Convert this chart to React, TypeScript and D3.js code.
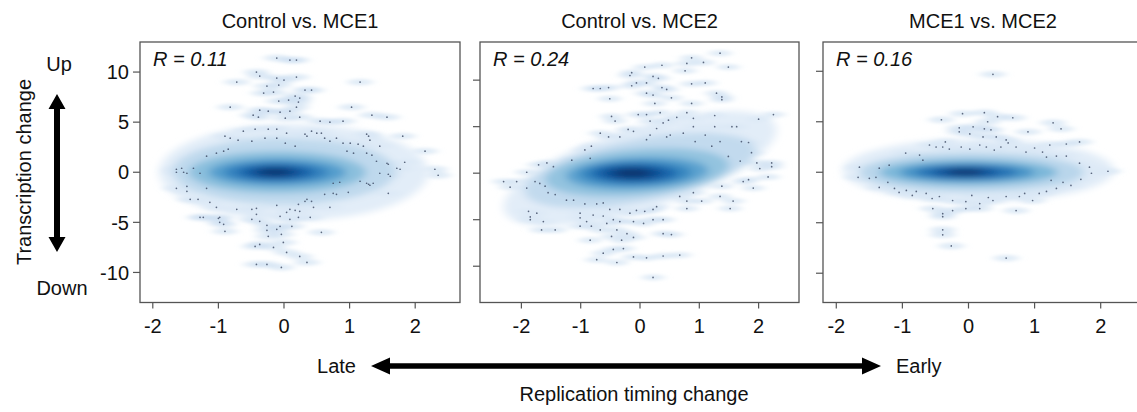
import React from 'react';
import * as d3 from 'd3';

const W = 1137;
const H = 412;

// ---------- data ----------
const panelTitles = ['Control vs. MCE1', 'Control vs. MCE2', 'MCE1 vs. MCE2'];
const correlations = ['0.11', '0.24', '0.16'];
const xTickValues = [-2, -1, 0, 1, 2];
const yTickValues = [-10, -5, 0, 5, 10];
const xDomains: [number, number][] = [[-2.195, 2.683], [-2.698, 2.681], [-2.201, 2.64]];
const yDomains: [number, number][] = [[-13, 13], [-13.9, 14.1], [-12.9, 12.9]];

type Dot = [number, number];

const dotsControlMCE1: Dot[] = [
  [-0.11, 11.4], [0.09, 11.2], [0.19, 11.2], [-0.42, 10.0], [-0.37, 9.6], [-0.11, 9.4], [0.0, 9.2], [0.19, 9.5],
  [-0.72, 9.0], [1.16, 9.0], [-0.26, 8.6], [-0.08, 8.7], [0.32, 8.2], [0.42, 8.2], [-0.31, 7.9], [-0.16, 8.0],
  [0.17, 7.6], [0.24, 7.4], [-0.08, 7.1], [0.07, 7.2], [0.22, 7.0], [-0.82, 6.5], [0.19, 6.5], [1.03, 6.5],
  [-0.37, 6.2], [-0.24, 6.1], [-0.06, 6.0], [0.09, 6.1], [-0.47, 5.7], [-0.39, 5.5], [0.24, 5.5], [0.02, 5.4],
  [1.34, 5.7], [1.57, 5.5], [0.55, 5.1], [0.7, 5.0], [0.9, 5.1],
  [-0.62, 4.1], [-0.44, 4.3], [-0.24, 4.3], [-0.11, 4.3], [0.04, 3.9], [0.32, 3.8], [0.42, 4.1], [0.5, 3.9], [0.57, 3.9],
  [-0.9, 3.6], [-0.82, 3.4], [-0.7, 3.2], [-0.49, 3.1], [-0.29, 3.4], [-0.11, 3.4], [0.02, 2.9], [0.17, 2.6],
  [0.35, 3.6], [0.62, 3.4], [0.7, 3.1], [0.8, 3.4], [0.9, 2.9], [1.01, 2.9], [1.13, 2.8], [1.29, 3.6], [1.31, 3.2], [1.46, 2.6],
  [-1.03, 1.9], [-0.92, 2.1], [-0.85, 2.3], [-1.18, 1.6], [0.96, 2.1], [1.06, 1.9], [1.26, 1.9], [1.34, 1.7],
  [-1.64, 0.3], [-1.64, 0.0], [-1.56, 0.4], [-1.53, 0.0], [-1.48, -0.1], [-1.38, 0.4], [-1.28, -0.1],
  [1.41, 1.1], [1.57, 0.9], [1.46, -0.1], [1.59, -0.2], [0.85, -1.0], [1.16, -0.9], [1.26, -1.1], [1.31, -1.3],
  [-1.64, -1.6], [-1.48, -1.4], [-1.48, -1.9], [-1.18, -1.6], [-1.43, -2.7], [-1.31, -2.7], [-1.13, -3.0],
  [0.62, -2.2], [0.75, -2.1], [0.8, -2.2], [0.98, -2.0], [0.32, -2.9], [0.45, -3.5], [0.22, -3.2], [-0.11, -3.3],
  [-1.03, -3.5], [-0.72, -3.7], [-0.49, -3.7], [-0.42, -3.6], [0.09, -3.7], [0.24, -3.9], [0.7, -3.5],
  [-1.23, -4.5], [-0.98, -4.5], [-0.49, -4.7], [-0.42, -4.2], [-0.06, -4.4], [0.09, -4.7], [0.22, -4.5], [0.4, -4.5],
  [-0.92, -5.2], [-0.26, -5.3], [-0.06, -5.4], [0.12, -5.4], [-0.11, -5.7], [-0.9, -5.9], [-0.24, -6.4], [0.57, -6.0],
  [-1.28, -4.5], [-1.0, -4.6], [-0.98, -5.0], [-0.37, -4.9], [-0.26, -5.8], [-0.04, -6.2], [0.04, -4.0], [0.17, -3.8],
  [0.35, -2.7], [0.42, -2.9], [-0.37, -7.2], [-0.44, -7.4], [-0.16, -7.5], [-0.01, -7.0], [0.04, -8.0], [0.24, -8.4],
  [0.35, -9.0], [-0.42, -9.2], [-0.26, -9.2], [-0.04, -9.5],
  [1.26, 3.8], [1.21, 2.6], [1.59, 0.8], [1.72, 0.4], [1.62, -0.4], [1.59, -2.1], [1.36, -1.1], [1.29, -1.2], [0.75, -1.1],
  [1.81, 3.6], [2.15, 2.1], [1.84, 1.0], [1.77, 0.3], [2.3, 0.3], [2.35, -0.3],
];

const dotsControlMCE2: Dot[] = [
  [1.35, 12.9], [0.87, 12.4], [0.79, 11.8], [1.07, 11.9], [1.49, 11.4], [0.37, 11.6], [0.08, 11.4], [-0.14, 10.8],
  [-0.17, 10.5], [0.22, 10.4], [0.31, 10.2], [-0.06, 9.7], [0.11, 9.7], [-0.14, 9.4], [0.37, 9.2], [0.45, 9.0],
  [-0.67, 9.1], [-0.53, 9.2], [-0.79, 9.1], [0.76, 11.0], [0.87, 9.6], [1.1, 9.7], [1.29, 8.6], [1.38, 8.2], [1.38, 7.9],
  [-0.51, 8.0], [0.11, 8.6], [0.22, 8.4], [0.53, 8.1], [0.25, 7.5], [0.87, 7.5], [0.34, 6.5], [0.11, 6.3], [-0.03, 6.3],
  [-0.48, 6.1], [-0.42, 5.6], [0.79, 6.5], [0.62, 6.0], [0.48, 5.7], [0.39, 5.4], [0.17, 5.6], [0.28, 4.8], [0.9, 5.9],
  [0.9, 5.0], [1.26, 6.2], [2.0, 5.8], [2.25, 6.3], [1.26, 5.0], [1.55, 5.0], [1.63, 5.0], [1.71, 3.4], [1.83, 3.3],
  [0.93, 3.4], [1.35, 3.4], [1.21, 2.9], [1.1, 4.1], [0.73, 4.3], [0.51, 4.1], [0.45, 3.9], [0.17, 4.1], [0.11, 3.6],
  [-0.11, 4.5], [-0.2, 4.7], [-0.34, 3.9], [-0.53, 3.9], [-0.67, 4.3], [-0.82, 2.9], [-0.93, 2.5], [-0.84, 1.6],
  [-1.15, 1.4], [-1.57, 1.1], [-1.71, 0.9], [-1.46, 0.7], [-1.91, 0.1], [-2.19, -1.5], [-2.3, -0.9], [-2.08, -0.9],
  [-1.91, -1.6], [-1.69, -1.1], [-1.77, -0.9], [1.88, 2.2], [1.97, 1.1], [2.22, 1.1], [2.22, 0.7], [2.02, 0.5],
  [1.83, -0.7], [1.74, -0.9], [1.91, -1.6], [2.16, -0.4], [1.49, 1.8], [1.69, 1.3], [1.38, -1.4], [0.9, -2.1],
  [0.67, -2.5], [0.79, -3.0], [1.04, -3.0], [1.35, -2.5], [1.57, -3.0], [1.52, -3.8], [0.79, -3.8], [-1.6, -1.4],
  [-1.55, -2.1], [-1.43, -2.3], [-1.24, -2.9], [-1.12, -2.9], [-0.93, -3.3], [-0.73, -3.3], [-0.62, -3.2], [-0.51, -3.9],
  [-0.34, -3.9], [-0.17, -4.3], [-0.06, -4.0], [0.08, -4.1], [0.22, -3.9], [0.28, -3.6], [-1.01, -4.3], [-0.79, -4.5],
  [-0.62, -4.6], [-0.45, -5.0], [-0.56, -5.4], [-0.34, -5.2], [-0.11, -5.2], [0.06, -5.4], [0.22, -5.0], [0.39, -5.0],
  [-1.01, -4.8], [-0.9, -5.2], [-0.82, -5.7], [-1.01, -5.7], [-0.67, -6.1], [-0.39, -6.1], [-0.22, -6.5], [-0.11, -6.9],
  [0.39, -6.5], [0.53, -6.6], [-1.88, -4.1], [-1.74, -4.3], [-1.85, -4.7], [-1.85, -5.0], [-1.63, -5.2], [-1.66, -6.1],
  [-1.43, -6.1], [-0.84, -7.2], [-0.48, -6.8], [-0.31, -7.2], [-0.62, -8.6], [-0.45, -8.2], [-0.28, -8.1], [-0.11, -9.0],
  [0.11, -9.1], [0.39, -8.9], [0.67, -8.8], [-0.39, -9.6], [0.22, -11.2], [-0.73, -9.3],
];

const dotsMCE1MCE2: Dot[] = [
  [0.37, 9.7], [-0.41, 5.2], [-0.09, 5.8], [0.24, 5.9], [0.44, 5.5], [0.67, 5.4], [0.29, 5.0], [-0.14, 4.4], [0.07, 4.5],
  [0.24, 4.3], [1.28, 4.9], [1.4, 4.3], [0.9, 4.0], [-0.14, 4.0], [0.02, 3.8], [0.22, 3.5], [0.42, 3.5], [0.57, 3.2],
  [0.34, 4.2], [-0.59, 2.7], [-0.49, 2.5], [-0.39, 2.5], [-0.29, 2.3], [-0.11, 2.5], [0.02, 2.3], [0.17, 2.7], [0.27, 2.5],
  [0.39, 2.2], [0.49, 2.5], [0.72, 2.5], [0.87, 2.0], [1.12, 2.0], [1.23, 2.7], [1.48, 2.8], [1.68, 3.0],
  [-0.74, 1.7], [-0.69, 1.2], [-1.2, 0.7], [-1.35, 0.4], [-1.65, 0.5], [-1.67, -0.5], [-1.5, -0.6], [-1.4, -0.5],
  [1.18, 1.5], [1.33, 1.6], [1.48, 1.6], [1.68, 0.9], [1.83, 0.5], [1.86, -0.1], [2.11, 0.1],
  [-1.22, -1.0], [-1.35, -1.5], [-1.12, -1.6], [-0.94, -1.8], [-0.79, -1.9], [-0.64, -2.1], [-0.44, -2.4], [-0.24, -2.8],
  [-0.04, -2.9], [0.17, -3.1], [0.37, -2.8], [0.57, -2.4], [0.77, -2.4], [0.97, -2.8], [1.18, -1.9], [1.33, -1.6],
  [1.43, -1.0], [1.25, -0.8], [1.07, -2.1], [-0.54, -3.6], [-0.39, -4.1], [-0.24, -3.8], [-0.04, -3.6], [0.17, -3.6],
  [0.72, -3.8], [-0.39, -4.4], [-0.39, -5.7], [-0.39, -6.2], [-0.26, -7.3], [0.57, -8.5],
  [-1.05, -2.0], [-0.85, -2.3], [-0.55, -2.6], [0.05, -2.3], [0.3, -2.5], [0.85, -2.1], [-0.95, 1.9], [-0.35, 3.0],
  [0.6, 2.9], [1.0, 2.4], [1.55, -1.3], [1.7, -0.7],
];

// density levels of the smoothed core, in data units (centre, half-spread, shear)
type Layer = { level: number; cx: number; cy: number; rx: number; ry: number; shear: number };

const coreControlMCE1: Layer[] = [
  { level: 0.06, cx: 0.15, cy: 0.0, rx: 2.05, ry: 4.8, shear: 0 },
  { level: 0.17, cx: 0.0, cy: 0.1, rx: 1.7, ry: 3.3, shear: 0 },
  { level: 0.32, cx: -0.1, cy: 0.0, rx: 1.35, ry: 2.1, shear: 0 },
  { level: 0.48, cx: -0.1, cy: 0.0, rx: 1.05, ry: 1.4, shear: 0 },
  { level: 0.62, cx: -0.12, cy: 0.0, rx: 0.8, ry: 1.0, shear: 0 },
  { level: 0.76, cx: -0.12, cy: 0.0, rx: 0.58, ry: 0.75, shear: 0 },
  { level: 0.88, cx: -0.13, cy: 0.0, rx: 0.4, ry: 0.52, shear: 0 },
  { level: 1.0, cx: -0.14, cy: 0.0, rx: 0.24, ry: 0.32, shear: 0 },
];

const coreControlMCE2: Layer[] = [
  { level: 0.06, cx: 0.0, cy: 0.5, rx: 2.3, ry: 4.6, shear: 1.8 },
  { level: 0.16, cx: 0.0, cy: 0.3, rx: 1.95, ry: 3.4, shear: 1.1 },
  { level: 0.3, cx: -0.05, cy: 0.1, rx: 1.55, ry: 2.5, shear: 0.5 },
  { level: 0.46, cx: -0.05, cy: 0.0, rx: 1.2, ry: 1.75, shear: 0.25 },
  { level: 0.6, cx: -0.08, cy: 0.0, rx: 0.95, ry: 1.3, shear: 0.1 },
  { level: 0.75, cx: -0.1, cy: 0.0, rx: 0.72, ry: 0.98, shear: 0 },
  { level: 0.88, cx: -0.12, cy: 0.0, rx: 0.5, ry: 0.7, shear: 0 },
  { level: 1.0, cx: -0.13, cy: 0.0, rx: 0.3, ry: 0.42, shear: 0 },
];

const coreMCE1MCE2: Layer[] = [
  { level: 0.06, cx: 0.15, cy: 0.2, rx: 2.05, ry: 3.1, shear: 0 },
  { level: 0.19, cx: 0.05, cy: 0.0, rx: 1.7, ry: 2.0, shear: 0 },
  { level: 0.36, cx: 0.0, cy: 0.0, rx: 1.35, ry: 1.3, shear: 0 },
  { level: 0.54, cx: -0.02, cy: 0.0, rx: 1.02, ry: 0.92, shear: 0 },
  { level: 0.7, cx: -0.03, cy: 0.0, rx: 0.76, ry: 0.68, shear: 0 },
  { level: 0.85, cx: -0.05, cy: 0.0, rx: 0.5, ry: 0.47, shear: 0 },
  { level: 1.0, cx: -0.05, cy: 0.0, rx: 0.28, ry: 0.3, shear: 0 },
];

const panelDots = [dotsControlMCE1, dotsControlMCE2, dotsMCE1MCE2];
const panelCores = [coreControlMCE1, coreControlMCE2, coreMCE1MCE2];

// ---------- layout ----------
const panelLefts = [140, 480, 823];
const panelRights = [460, 799, 1143];
const TOP = 42;
const BOTTOM = 302.5;
const FONT = '"Liberation Sans", Arial, Helvetica, sans-serif';
const FRAME = '#555';
const FS = 20;

const blues = (t: number) => d3.interpolateBlues(0.03 + 0.97 * Math.pow(t, 0.8));

function ellipsePath(l: Layer, xs: d3.ScaleLinear<number, number>, ys: d3.ScaleLinear<number, number>) {
  const n = 60;
  const pts: [number, number][] = d3.range(n).map((i) => {
    const t = (i / n) * Math.PI * 2;
    const dx = l.rx * Math.cos(t);
    return [xs(l.cx + dx), ys(l.cy + l.ry * Math.sin(t) + l.shear * dx)];
  });
  return d3.line().curve(d3.curveCardinalClosed)(pts) || '';
}

function Panel({ i }: { i: number }) {
  const left = panelLefts[i];
  const right = panelRights[i];
  const xs = d3.scaleLinear().domain(xDomains[i]).range([left, right]);
  const ys = d3.scaleLinear().domain(yDomains[i]).range([BOTTOM, TOP]);
  const kx = Math.abs(xs(1) - xs(0));
  const ky = Math.abs(ys(1) - ys(0));
  const haloRx = 0.19 * kx;
  const haloRy = 0.34 * ky;
  const cx = (left + right) / 2;
  return (
    <g>
      <defs>
        <clipPath id={`clip${i}`}>
          <rect x={left} y={TOP} width={right - left} height={BOTTOM - TOP} />
        </clipPath>
        <filter id={`blurCore${i}`} x="-30%" y="-30%" width="160%" height="160%">
          <feGaussianBlur stdDeviation="5 3" />
        </filter>
        <filter id={`blurHalo${i}`} x="-50%" y="-50%" width="200%" height="200%">
          <feGaussianBlur stdDeviation="4.5 1.6" />
        </filter>
      </defs>
      <text x={cx} y={28} textAnchor="middle" fontFamily={FONT} fontSize={FS} fill="#111">
        {panelTitles[i]}
      </text>
      <g clipPath={`url(#clip${i})`}>
        <rect x={left} y={TOP} width={right - left} height={BOTTOM - TOP} fill="#fff" />
        <g filter={`url(#blurHalo${i})`}>
          {panelDots[i].map((d, j) => (
            <ellipse key={j} cx={xs(d[0])} cy={ys(d[1])} rx={haloRx} ry={haloRy} fill={blues(0.14)} opacity={0.55} />
          ))}
        </g>
        <g filter={`url(#blurCore${i})`}>
          {panelCores[i].map((l, j) => (
            <path key={j} d={ellipsePath(l, xs, ys)} fill={blues(l.level)} opacity={j === 0 ? 0.85 : 1} />
          ))}
        </g>
        {panelDots[i].map((d, j) => (
          <circle key={j} cx={xs(d[0])} cy={ys(d[1])} r={0.85} fill="#3a4660" opacity={0.8} />
        ))}
      </g>
      <text x={left + 13} y={66} fontFamily={FONT} fontSize={FS} fontStyle="italic" fill="#111">
        {`R = ${correlations[i]}`}
      </text>
      <rect x={left} y={TOP} width={right - left} height={BOTTOM - TOP} fill="none" stroke={FRAME} strokeWidth={1.3} />
      {xTickValues.map((t) => (
        <g key={t}>
          <line x1={xs(t)} x2={xs(t)} y1={BOTTOM} y2={BOTTOM + 6} stroke={FRAME} strokeWidth={1.2} />
          <text x={xs(t)} y={BOTTOM + 30} textAnchor="middle" fontFamily={FONT} fontSize={FS} fill="#111">
            {t}
          </text>
        </g>
      ))}
      {yTickValues.map((t) => (
        <g key={t}>
          <line x1={left - 7} x2={left} y1={ys(t)} y2={ys(t)} stroke={FRAME} strokeWidth={1.2} />
          {i === 0 && (
            <text x={left - 11} y={ys(t)} dy="0.36em" textAnchor="end" fontFamily={FONT} fontSize={FS} fill="#111">
              {t}
            </text>
          )}
        </g>
      ))}
    </g>
  );
}

export default function App() {
  const vx = 57;
  const vTop = 94;
  const vBot = 252;
  const head = 15;
  const hw = 8.5;
  const vPath = `M${vx},${vTop} L${vx + hw},${vTop + head} L${vx + 3},${vTop + head} L${vx + 3},${vBot - head} L${vx + hw},${vBot - head} L${vx},${vBot} L${vx - hw},${vBot - head} L${vx - 3},${vBot - head} L${vx - 3},${vTop + head} L${vx - hw},${vTop + head} Z`;
  const hy = 366;
  const hL = 371;
  const hR = 881;
  const hh = 19;
  const hhw = 8.5;
  const hPath = `M${hL},${hy} L${hL + hh},${hy - hhw} L${hL + hh},${hy - 2.7} L${hR - hh},${hy - 2.7} L${hR - hh},${hy - hhw} L${hR},${hy} L${hR - hh},${hy + hhw} L${hR - hh},${hy + 2.7} L${hL + hh},${hy + 2.7} L${hL + hh},${hy + hhw} Z`;
  return (
    <div style={{ position: 'absolute', left: 0, top: 0 }}>
      <svg width={W} height={H} style={{ display: 'block', background: '#fff' }}>
        <rect width={W} height={H} fill="#fff" />
        {[0, 1, 2].map((i) => (
          <Panel key={i} i={i} />
        ))}
        <text x={59} y={71} textAnchor="middle" fontFamily={FONT} fontSize={FS} fill="#111">Up</text>
        <text x={62} y={295} textAnchor="middle" fontFamily={FONT} fontSize={FS} fill="#111">Down</text>
        <text transform="translate(31,172) rotate(-90)" textAnchor="middle" fontFamily={FONT} fontSize={FS} fill="#111">
          Transcription change
        </text>
        <path d={vPath} fill="#000" />
        <path d={hPath} fill="#000" />
        <text x={356} y={hy} dy="0.36em" textAnchor="end" fontFamily={FONT} fontSize={FS} fill="#111">Late</text>
        <text x={896} y={hy} dy="0.36em" textAnchor="start" fontFamily={FONT} fontSize={FS} fill="#111">Early</text>
        <text x={634} y={401} textAnchor="middle" fontFamily={FONT} fontSize={FS} fill="#111">Replication timing change</text>
      </svg>
    </div>
  );
}
